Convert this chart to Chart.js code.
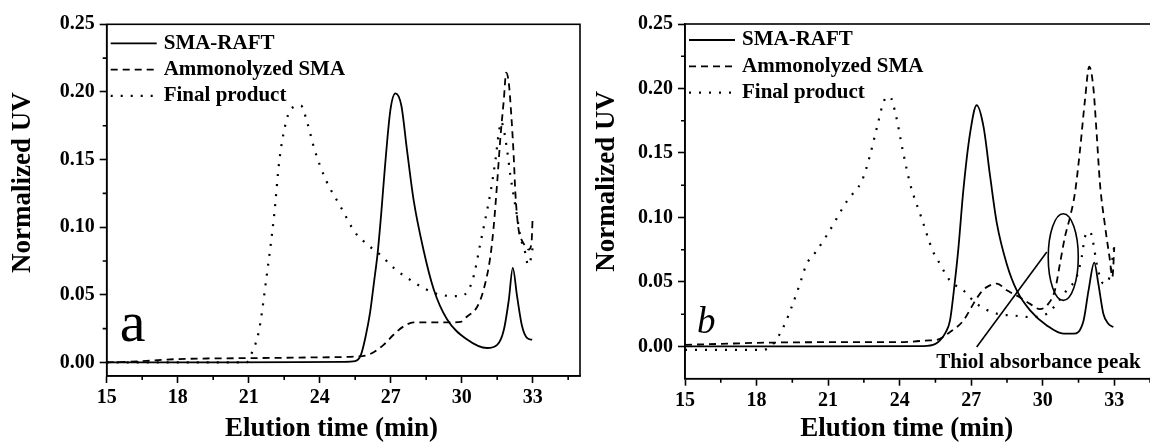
<!DOCTYPE html>
<html>
<head>
<meta charset="utf-8">
<script src="https://cdn.jsdelivr.net/npm/chart.js@4"></script>
<style>
  html, body { margin: 0; padding: 0; background: #fff; width: 1150px; height: 442px; overflow: hidden; }
  canvas { position: absolute; top: 0; }
  #chart-a { left: 0; }
  #chart-b { left: 584px; }
</style>
</head>
<body>
<canvas id="chart-a" width="600" height="442"></canvas>
<canvas id="chart-b" width="600" height="442"></canvas>
<script>
const SERIF = '"Liberation Serif", "Times New Roman", serif';

const seriesNames = ['SMA-RAFT', 'Ammonolyzed SMA', 'Final product'];
const xTitle = 'Elution time (min)';
const yTitle = 'Normalized UV';
const noteText = 'Thiol absorbance peak';

const xTicks = [15, 16.5, 18, 19.5, 21, 22.5, 24, 25.5, 27, 28.5, 30, 31.5, 33, 34.5];
const yTicks = [0, 0.025, 0.05, 0.075, 0.1, 0.125, 0.15, 0.175, 0.2, 0.225, 0.25];

// --- panel a ---
const raftTimeA = [15, 20, 25, 25.5, 25.75, 25.95, 26.13, 26.3, 26.45, 26.6, 26.76, 26.99, 27.2, 27.45, 27.69, 27.97, 28.39, 28.82, 29.38, 30.23, 31.07, 31.5, 31.78, 31.99, 32.16, 32.34, 32.55, 32.77, 32.98];
const raftUvA   = [0, 0, 0.0005, 0.001, 0.006, 0.02, 0.037, 0.06, 0.081, 0.11, 0.145, 0.187, 0.199, 0.19, 0.157, 0.12, 0.083, 0.054, 0.032, 0.017, 0.0107, 0.013, 0.024, 0.046, 0.07, 0.049, 0.027, 0.018, 0.0168];

const amTimeA = [15, 16.5, 18, 19.5, 21, 24, 25.5, 26.1, 26.7, 27.12, 27.55, 27.97, 29.38, 29.95, 30.23, 30.65, 30.93, 31.21, 31.35, 31.5, 31.64, 31.78, 31.88, 31.99, 32.1, 32.2, 32.27, 32.39, 32.48, 32.69, 32.83, 32.95, 33.0];
const amUvA   = [0, 0.001, 0.0025, 0.003, 0.0032, 0.0038, 0.0044, 0.006, 0.013, 0.0205, 0.0267, 0.0296, 0.0296, 0.030, 0.034, 0.041, 0.054, 0.078, 0.1, 0.133, 0.167, 0.194, 0.2142, 0.2068, 0.182, 0.152, 0.125, 0.1, 0.093, 0.086, 0.0834, 0.088, 0.108];

const finalTimeA = [15, 18, 20.9, 21.13, 21.44, 21.76, 22.07, 22.3, 22.54, 22.77, 23.2, 23.48, 23.79, 24.26, 24.89, 25.5, 26.1, 26.63, 27.12, 27.83, 28.39, 29.1, 29.95, 30.3, 30.51, 30.79, 31.0, 31.21, 31.43, 31.57, 31.67, 31.78, 31.92, 32.06, 32.2, 32.34, 32.48, 32.69, 32.8, 32.9, 33.0];
const finalUvA   = [0, 0, 0, 0.007, 0.024, 0.064, 0.108, 0.15, 0.175, 0.187, 0.19, 0.177, 0.157, 0.135, 0.115, 0.096, 0.086, 0.0785, 0.07, 0.061, 0.055, 0.05, 0.049, 0.054, 0.064, 0.088, 0.106, 0.125, 0.15, 0.17, 0.178, 0.172, 0.157, 0.138, 0.123, 0.108, 0.093, 0.081, 0.072, 0.075, 0.085];

// --- panel b ---
const raftTimeB = [15, 20, 25, 25.5, 25.69, 25.9, 26.11, 26.32, 26.46, 26.67, 26.95, 27.23, 27.52, 27.8, 28.08, 28.49, 28.91, 29.47, 30.17, 30.87, 31.29, 31.71, 31.92, 32.16, 32.33, 32.54, 32.75, 32.96];
const raftUvB   = [0, 0, 0.0003, 0.002, 0.0047, 0.01, 0.02, 0.051, 0.0755, 0.121, 0.165, 0.187, 0.17, 0.131, 0.095, 0.064, 0.0435, 0.028, 0.0163, 0.0099, 0.0099, 0.02, 0.0435, 0.065, 0.0487, 0.0254, 0.0176, 0.015];

const amTimeB = [15, 16.5, 18, 21, 24, 25.27, 25.55, 26.1, 26.67, 27.09, 27.37, 27.65, 28.08, 28.49, 29.05, 29.47, 29.88, 30.23, 30.51, 30.72, 30.93, 31.14, 31.35, 31.56, 31.77, 31.95, 32.12, 32.26, 32.4, 32.6, 32.8, 32.92, 33.0];
const amUvB   = [0.0013, 0.002, 0.0028, 0.0033, 0.0033, 0.0047, 0.005, 0.011, 0.02, 0.033, 0.041, 0.046, 0.0487, 0.0435, 0.038, 0.033, 0.029, 0.033, 0.0435, 0.064, 0.085, 0.1, 0.119, 0.152, 0.191, 0.217, 0.201, 0.165, 0.126, 0.095, 0.069, 0.054, 0.077];

const finalTimeB = [15, 18.28, 18.7, 18.98, 19.19, 19.47, 19.82, 20.1, 20.38, 20.94, 21.8, 22.43, 22.74, 23.05, 23.36, 23.59, 23.82, 24.13, 24.44, 24.91, 25.38, 25.69, 26.11, 26.67, 27.23, 28.08, 28.77, 29.47, 30.17, 30.58, 31.0, 31.42, 31.63, 31.77, 31.98, 32.12, 32.26, 32.4, 32.54, 32.75, 32.89, 32.99];
const finalUvB   = [-0.0026, -0.0026, 0.002, 0.0098, 0.0176, 0.0305, 0.0487, 0.064, 0.0707, 0.086, 0.113, 0.129, 0.147, 0.17, 0.191, 0.1936, 0.181, 0.152, 0.126, 0.1, 0.0745, 0.064, 0.051, 0.0435, 0.033, 0.0254, 0.024, 0.0228, 0.0254, 0.033, 0.0435, 0.054, 0.069, 0.085, 0.089, 0.08, 0.064, 0.054, 0.0487, 0.051, 0.064, 0.077];

// annotation in panel b (data units)
const ellipseCenter = [30.86, 0.0693];
const ellipseRadius = [0.63, 0.0336];
const pointerFrom = [27.23, -0.0005];
const pointerTo = [30.17, 0.0732];
const noteAt = [29.82, -0.0124];

const isMajorX = v => Math.abs(v / 3 - Math.round(v / 3)) < 1e-6;
const isMajorY = v => Math.abs(v * 20 - Math.round(v * 20)) < 1e-6;

const pairs = (xs, ys) => xs.map((x, i) => ({ x, y: ys[i] }));

const panelPlugin = {
  id: 'panel',
  afterDraw(chart, args, opts) {
    const { ctx, chartArea: a, scales: { x, y } } = chart;
    ctx.save();
    ctx.strokeStyle = '#000';
    ctx.lineWidth = 1.6;
    ctx.strokeRect(a.left, a.top, a.right - a.left, a.bottom - a.top);

    // minor ticks
    ctx.beginPath();
    x.ticks.forEach(t => {
      if (isMajorX(t.value)) return;
      const px = x.getPixelForValue(t.value);
      ctx.moveTo(px, a.bottom); ctx.lineTo(px, a.bottom + 4);
    });
    y.ticks.forEach(t => {
      if (isMajorY(t.value)) return;
      const py = y.getPixelForValue(t.value);
      ctx.moveTo(a.left, py); ctx.lineTo(a.left - 4, py);
    });
    ctx.stroke();

    // legend, inside the plot, top left
    ctx.fillStyle = '#000';
    ctx.font = 'bold 21px ' + SERIF;
    ctx.textAlign = 'left';
    ctx.textBaseline = 'middle';
    chart.data.datasets.forEach((ds, i) => {
      const ly = a.top + opts.legendTop + 26.3 * i;
      ctx.save();
      ctx.lineWidth = ds.borderWidth;
      ctx.setLineDash(ds.borderDash);
      ctx.beginPath();
      ctx.moveTo(a.left + 4, ly);
      ctx.lineTo(a.left + 50, ly);
      ctx.stroke();
      ctx.restore();
      ctx.fillText(ds.label, a.left + 57, ly);
    });

    // axis titles
    ctx.font = 'bold 27px ' + SERIF;
    ctx.textAlign = 'center';
    ctx.fillText(xTitle, x.getPixelForValue(opts.xTitleAt), 429);
    ctx.save();
    ctx.translate(23, y.getPixelForValue(opts.yTitleAt));
    ctx.rotate(-Math.PI / 2);
    ctx.fillText(yTitle, 0, 0);
    ctx.restore();

    // panel letter
    ctx.font = opts.letterFont;
    ctx.textAlign = 'left';
    ctx.textBaseline = 'alphabetic';
    ctx.fillText(opts.letter, x.getPixelForValue(opts.letterAt[0]), y.getPixelForValue(opts.letterAt[1]));

    if (opts.note) {
      const cx = x.getPixelForValue(ellipseCenter[0]);
      const cy = y.getPixelForValue(ellipseCenter[1]);
      const rx = x.getPixelForValue(ellipseCenter[0] + ellipseRadius[0]) - cx;
      const ry = cy - y.getPixelForValue(ellipseCenter[1] + ellipseRadius[1]);
      ctx.lineWidth = 1.6;
      ctx.beginPath();
      ctx.ellipse(cx, cy, rx, ry, 0, 0, Math.PI * 2);
      ctx.stroke();
      ctx.beginPath();
      ctx.moveTo(x.getPixelForValue(pointerFrom[0]), y.getPixelForValue(pointerFrom[1]));
      ctx.lineTo(x.getPixelForValue(pointerTo[0]), y.getPixelForValue(pointerTo[1]));
      ctx.stroke();
      ctx.font = 'bold 21px ' + SERIF;
      ctx.textAlign = 'center';
      ctx.textBaseline = 'middle';
      ctx.fillText(noteText, x.getPixelForValue(noteAt[0]), y.getPixelForValue(noteAt[1]));
    }
    ctx.restore();
  }
};

function makeChart(id, series, box, yMin, panelOpts) {
  const styles = [
    { borderDash: [], borderWidth: 1.8 },
    { borderDash: [7, 5], borderWidth: 1.8 },
    { borderDash: [2, 8], borderWidth: 2.2 }
  ];
  return new Chart(document.getElementById(id), {
    type: 'line',
    data: {
      datasets: series.map((s, i) => ({
        label: seriesNames[i],
        data: pairs(s[0], s[1]),
        borderColor: '#000',
        backgroundColor: '#000',
        borderWidth: styles[i].borderWidth,
        borderDash: styles[i].borderDash,
        pointRadius: 0,
        fill: false,
        cubicInterpolationMode: 'monotone'
      }))
    },
    options: {
      responsive: false,
      animation: false,
      layout: { padding: { left: 0, top: box.top, right: box.right, bottom: 0 } },
      plugins: {
        tooltip: { enabled: false },
        legend: { display: false },
        panel: panelOpts
      },
      scales: {
        x: {
          type: 'linear',
          min: 15,
          max: 35,
          afterBuildTicks: scale => { scale.ticks = xTicks.map(v => ({ value: v })); },
          afterFit: scale => { scale.height = box.xHeight; },
          ticks: {
            autoSkip: false,
            maxRotation: 0,
            padding: 3,
            color: '#000',
            font: { family: SERIF, size: 20, weight: 'bold' },
            callback: v => isMajorX(v) ? String(v) : ''
          },
          grid: {
            drawOnChartArea: false,
            tickLength: 7,
            tickWidth: 1.6,
            tickColor: c => isMajorX(c.tick.value) ? '#000' : 'rgba(0,0,0,0)'
          },
          border: { color: '#000', width: 1.6 }
        },
        y: {
          type: 'linear',
          min: yMin,
          max: 0.25,
          afterBuildTicks: scale => { scale.ticks = yTicks.map(v => ({ value: v })); },
          afterFit: scale => { scale.width = box.yWidth; },
          ticks: {
            autoSkip: false,
            padding: 5,
            color: '#000',
            font: { family: SERIF, size: 20, weight: 'bold' },
            callback: v => isMajorY(v) ? v.toFixed(2) : ''
          },
          grid: {
            drawOnChartArea: false,
            tickLength: 7,
            tickWidth: 1.6,
            tickColor: c => isMajorY(c.tick.value) ? '#000' : 'rgba(0,0,0,0)'
          },
          border: { color: '#000', width: 1.6 }
        }
      }
    },
    plugins: [panelPlugin]
  });
}

makeChart('chart-a',
  [[raftTimeA, raftUvA], [amTimeA, amUvA], [finalTimeA, finalUvA]],
  { top: 24.3, right: 20, yWidth: 106.7, xHeight: 66 },
  -0.01,
  { letter: 'a', letterFont: '58px ' + SERIF, letterAt: [15.55, 0.016], xTitleAt: 24.5, yTitleAt: 0.133, legendTop: 19 });

makeChart('chart-b',
  [[raftTimeB, raftUvB], [amTimeB, amUvB], [finalTimeB, finalUvB]],
  { top: 24, right: 22, yWidth: 101, xHeight: 63.3 },
  -0.025,
  { letter: 'b', letterFont: 'italic 37px ' + SERIF, letterAt: [15.5, 0.0101], xTitleAt: 24.3, yTitleAt: 0.128, note: true, legendTop: 16 });
</script>
</body>
</html>
